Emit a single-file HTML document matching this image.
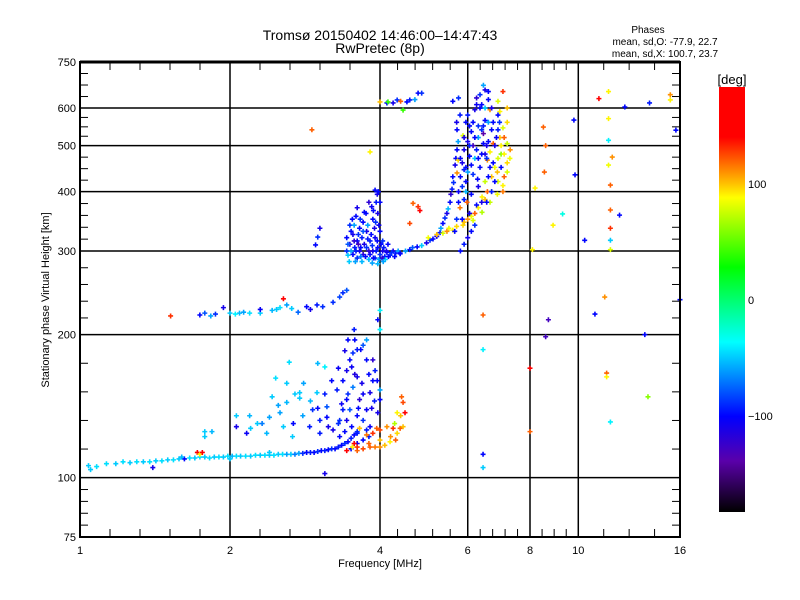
<!DOCTYPE html>
<html><head><meta charset="utf-8"><style>
html,body{margin:0;padding:0;background:#fff;}
svg{display:block;font-family:"Liberation Sans",sans-serif;}
</style></head><body>
<svg id="chart" width="800" height="600" viewBox="0 0 800 600" xmlns="http://www.w3.org/2000/svg">
<defs>
<linearGradient id="cbar" x1="0" y1="0" x2="0" y2="1">
<stop offset="0" stop-color="#ff0000"/><stop offset="0.118" stop-color="#ff0000"/>
<stop offset="0.227" stop-color="#ffc000"/><stop offset="0.26" stop-color="#ffff00"/>
<stop offset="0.424" stop-color="#00ff00"/><stop offset="0.6" stop-color="#00ffff"/>
<stop offset="0.775" stop-color="#0000ff"/><stop offset="0.88" stop-color="#5a00aa"/>
<stop offset="1" stop-color="#000000"/>
</linearGradient>
</defs>
<text x="380" y="40" font-size="14" text-anchor="middle">Tromsø 20150402 14:46:00–14:47:43</text>
<text x="380" y="53" font-size="14" text-anchor="middle">RwPretec (8p)</text>
<text x="648" y="33" font-size="10" text-anchor="middle">Phases</text>
<text x="665" y="45" font-size="10" text-anchor="middle">mean, sd,O: -77.9, 22.7</text>
<text x="665" y="57" font-size="10" text-anchor="middle">mean, sd,X: 100.7, 23.7</text>
<text x="380" y="567" font-size="11" text-anchor="middle">Frequency [MHz]</text>
<text x="49" y="300" font-size="11" text-anchor="middle" transform="rotate(-90 49 300)">Stationary phase Virtual Height [km]</text>
<g id="grid"></g>
<g id="marks"></g>
<g id="axes"></g>
<rect x="719" y="87" width="26" height="425" fill="url(#cbar)"/>
<text x="732" y="84" font-size="13" text-anchor="middle">[deg]</text>
<g id="cbticks"></g>
</svg>
<script>
const xMajors = [1, 2, 4, 6, 8, 10, 16];
const xSubs = [5, 5, 5, 5, 4, 4];
const xGrid = [2, 4, 6, 8, 10];
const yMajors = [75, 100, 200, 300, 400, 500, 600, 750];
const ySubs = [5, 5, 5, 5, 4, 4, 4];
const yGrid = [100, 200, 300, 400, 500, 600];
const cbTicks = [100, 0, -100];
const cbLabels = ["100", "0", "\u2212100"];

const eLayerPoints = [[1.04,106,-50],[1.08,105.5,-45],[1.13,107,-45],[1.18,107,-50],[1.22,108,-45],[1.26,107.5,-50],[1.3,108,-45],[1.34,108,-50],[1.38,108,-45],[1.42,108.5,-50],[1.46,108.5,-45],[1.5,109,-50],[1.54,109,-45],[1.58,109.5,-50],[1.62,109.5,-100],[1.66,110,-45],[1.7,110,-50],[1.74,110.5,-45],[1.78,110.5,-50],[1.82,110,-45],[1.86,110.5,-50],[1.9,110.5,-45],[1.94,110.5,-50],[1.98,111,-45],[2.02,111,-55],[2.06,111,-45],[2.1,111,-50],[2.15,111,-45],[2.2,111,-50],[2.25,111.5,-45],[2.3,111.5,-50],[2.35,111.5,-45],[2.4,111.5,-50],[2.45,111.5,-45],[2.5,112,-50],[2.55,112,-45],[2.6,112,-60],[2.65,112,-50],[2.7,112,-70],[2.75,112.5,-60],[2.8,112.5,-90],[2.85,113,-100],[2.9,113,-95],[2.95,113,-100],[3.0,113.5,-90],[3.05,114,-100],[3.1,114,-95],[3.15,114.5,-100],[3.2,115,-90],[3.25,115,-100],[3.3,116,-95],[3.35,117,-100],[3.4,118,-90],[3.45,119,-100],[3.5,121,-95],[3.55,123,-100],[3.6,125,-90],[1.72,113,140],[1.74,112,90],[1.76,113,150],[1.05,104,-50],[1.4,105,-110],[1.6,110.5,-55],[2.0,109.5,-50],[2.4,113,-50],[3.1,102,-110],[3.5,115,-100],[3.6,118,-110],[3.7,120,-100],[3.8,122,-95]];

const scatterPoints = [[1.78,125,-50],[1.78,122,-50],[1.84,125,-55],[2.06,135,-50],[2.19,135,-55],[2.27,130,-50],[2.32,130,-70],[2.40,134,-60],[2.43,148,-50],[2.47,162,-45],[2.60,158,-50],[2.63,175,-45],[2.76,151,-50],[2.81,158,-60],[2.99,151,-50],[3.0,174,-55],[3.10,171,-40],[3.13,141,-80],[2.76,147,-50],[2.93,139,-90],[2.68,130,-100],[2.89,128,-95],[3.03,124,-95],[2.52,137,-60],[2.56,128,-50],[2.67,122,-50],[2.37,124,-55],[2.16,124,-105],[2.06,128,-110],[2.60,144,-55],[3.28,153,-95],[3.37,160,-100],[3.43,168,-110],[3.48,177,-100],[3.53,183,-90],[3.60,186,-95],[3.56,195,-100],[3.51,171,-105],[3.60,163,-110],[3.53,155,-70],[3.43,146,-100],[3.37,139,-95],[3.43,132,-110],[3.51,128,-100],[3.60,124,-95],[3.70,132,-90],[3.76,139,-105],[3.82,151,-110],[3.87,160,-100],[3.91,168,-95],[3.87,177,-120],[4.0,153,-60],[4.0,146,-100],[3.96,137,-110],[3.76,126,-95],[3.32,122,-100],[3.22,126,-110],[3.13,134,-100],[3.03,132,-95],[3.32,132,-90],[3.48,139,-80],[3.64,146,-120],[3.68,158,-110],[3.76,177,-100],[3.82,128,-105],[3.70,190,-80],[3.76,195,-60],[3.66,186,-100],[3.56,165,-115],[3.45,150,-90],[3.62,140,-100],[3.90,145,-95],[3.35,143,-105],[2.2,127,-50],[2.5,142,-60],[2.7,150,-50],[2.9,145,-55],[3.1,150,-95],[3.2,160,-100],[3.3,170,-105],[3.4,185,-110],[3.45,195,-100],[3.55,205,-95],[3.3,130,-90],[3.4,125,-100],[3.6,135,-100],[3.7,150,-105],[3.8,165,-100],[3.85,140,-110],[3.95,160,-100],[2.8,135,-60],[3.0,140,-100],[3.15,128,-110]];

const eOrangePoints = [[3.43,114,140],[3.60,114,120],[3.70,115,125],[3.82,116,120],[3.91,116,115],[4.0,116,110],[4.09,117,100],[4.19,119,90],[4.33,124,95],[4.39,127,120],[4.45,128,100],[4.49,137,140],[4.45,144,125],[4.42,148,120],[4.33,137,90],[4.25,127,130],[4.0,126,125],[3.87,124,130],[3.76,123,115],[3.64,127,100],[3.94,127,120],[4.13,128,110],[3.55,118,160],[3.52,116,90],[4.28,130,70],[3.6,116,130],[3.8,118,120],[4.0,120,100],[4.2,122,110],[4.4,135,100],[4.3,120,120]];

const esTracePoints = [[1.74,220,-100],[1.78,222,-80],[1.87,221,-90],[1.94,228,-110],[2.0,222,-50],[2.09,222,-55],[2.19,222,-45],[2.30,222,-50],[2.43,225,-55],[2.52,228,-45],[2.60,231,-60],[2.74,223,-75],[2.85,229,-100],[2.99,231,-95],[3.07,229,-90],[3.22,234,-90],[3.32,240,-85],[3.37,245,-90],[3.43,248,-80],[1.52,219,130],[2.56,238,140],[2.3,226,-105],[2.66,227,-50],[2.9,226,-110],[1.83,219,-60],[2.05,221,-40],[2.13,223,-60],[2.48,226,-50],[2.97,309,-100],[3.0,321,-90],[3.03,335,-110],[2.92,540,120],[3.82,485,90],[3.91,403,-100],[4.0,205,-40],[3.96,215,-100],[4.0,225,-40]];

const fBlobPoints = [[3.43,300,-90],[3.43,320,-100],[3.48,310,-110],[3.48,340,-90],[3.53,295,-100],[3.53,325,-110],[3.56,305,-95],[3.60,315,-100],[3.60,290,-90],[3.64,300,-110],[3.64,335,-100],[3.68,320,-95],[3.70,295,-120],[3.70,345,-100],[3.76,305,-90],[3.76,330,-110],[3.82,295,-100],[3.82,315,-95],[3.87,300,-110],[3.87,350,-100],[3.91,290,-90],[3.91,320,-105],[3.96,305,-100],[3.96,360,-110],[4.0,295,-90],[4.0,330,-100],[4.0,380,-100],[4.05,300,-110],[4.09,292,-95],[4.13,298,-100],[4.19,294,-90],[4.25,300,-110],[4.30,297,-95],[4.39,296,-100],[3.58,355,-100],[3.72,362,-100],[3.85,372,-105],[3.95,395,-110],[3.92,345,-90],[3.50,300,-60],[3.66,292,-70],[3.80,288,-55],[3.98,288,-60],[4.10,288,-50],[3.45,294,-50],[3.62,310,-130],[3.78,340,-60],[4.05,315,-90],[4.15,310,-100],[3.45,310,-80],[3.5,330,-100],[3.55,315,-120],[3.58,300,-95],[3.62,325,-90],[3.66,305,-100],[3.7,330,-80],[3.72,310,-110],[3.74,292,-100],[3.78,318,-95],[3.8,300,-120],[3.84,325,-100],[3.86,308,-90],[3.88,290,-100],[3.9,335,-110],[3.93,300,-95],[3.95,315,-100],[3.98,340,-105],[4.02,310,-100],[4.04,290,-120],[4.07,305,-95],[4.12,300,-110],[4.16,292,-100],[4.22,298,-90],[4.28,292,-100],[4.35,300,-60],[3.52,350,-100],[3.55,340,-60],[3.6,370,-110],[3.65,350,-90],[3.75,360,-100],[3.8,380,-120],[3.88,365,-100],[3.93,380,-95],[3.97,400,-100],[3.47,285,-50],[3.57,285,-60],[3.68,285,-55],[3.86,283,-60],[3.96,282,-55],[4.06,285,-60]];

const fTracePoints = [[4.39,297,-100],[4.59,302,-95],[4.75,306,-100],[4.96,312,-110],[5.11,318,-100],[5.28,328,-95],[5.35,343,-100],[5.45,360,-110],[5.53,380,-100],[5.58,405,-95],[5.60,430,-100],[5.66,455,-110],[5.71,490,-100],[5.71,540,-100],[5.79,580,-95],[4.5,300,-60],[4.65,305,-80],[4.85,308,-50],[5.04,316,-90],[5.2,322,-110],[5.3,335,-60],[5.4,352,-90],[5.48,368,-55],[5.55,395,-120],[5.62,418,-90],[5.68,470,-100],[5.74,510,-60],[5.7,560,-110],[5.6,620,-100],[5.75,630,-90],[4.13,615,-100],[4.25,615,-110],[4.33,624,-90],[4.53,618,-100],[4.59,624,-95],[4.77,645,-100],[4.85,645,-90],[4.15,618,40],[4.45,594,40],[4.0,618,100],[4.4,620,120],[4.7,625,-60]];

const xTracePoints = [[5.35,327,80],[5.60,332,90],[5.87,340,95],[6.15,348,80],[6.41,362,70],[6.65,380,75],[6.88,395,85],[7.06,412,90],[7.20,440,80],[7.29,470,85],[7.20,505,75],[7.06,545,80],[6.96,590,90],[7.06,650,130],[4.77,372,130],[4.66,378,120],[4.59,343,125],[4.81,365,140],[5.79,370,115],[5.98,380,120],[5.71,438,110],[5.74,466,95],[5.87,525,80],[6.57,466,110],[6.65,485,90],[6.75,505,120],[6.96,520,100],[6.65,595,110],[7.06,400,115],[6.57,400,120],[6.41,390,90],[6.88,440,100],[6.2,360,120],[6.0,350,110],[5.5,335,85],[7.3,490,110],[7.2,560,95],[6.9,620,80],[7.0,480,60],[6.8,450,85],[6.5,420,75],[6.3,370,90],[6.5,385,100],[6.7,400,85],[6.9,420,80],[7.1,430,120],[7.2,460,95],[7.1,480,90],[6.9,470,80],[6.7,430,100],[6.1,355,85],[5.9,345,100],[5.7,338,95],[5.45,330,110],[5.2,325,100],[5.0,320,85],[7.1,520,120],[7.0,500,90],[7.2,600,100]];

const fBluePoints = [[5.8,300,-100],[5.9,310,-95],[6.0,320,-110],[6.1,330,-100],[6.2,340,-90],[5.85,350,-100],[6.05,360,-110],[6.25,375,-100],[5.9,385,-95],[6.1,395,-100],[6.3,410,-110],[5.95,420,-100],[6.15,435,-90],[6.35,450,-100],[5.85,460,-110],[6.05,475,-100],[6.25,490,-95],[6.45,505,-100],[5.9,520,-110],[6.1,535,-100],[6.3,550,-90],[6.5,565,-100],[6.0,580,-95],[6.2,595,-110],[6.4,610,-100],[6.6,625,-100],[6.35,640,-90],[6.5,655,-110],[6.45,670,-60],[6.7,540,-100],[6.8,500,-110],[6.55,470,-90],[6.6,430,-100],[6.4,380,-110],[6.6,560,-60],[6.9,580,-100],[6.3,520,-60],[6.0,440,-60],[6.2,470,-50],[5.95,400,-55],[6.5,600,-50],[6.75,460,-100],[6.85,520,-105],[5.8,430,-100],[5.75,400,-105],[6.25,630,-120],[6.7,600,-110],[6.55,380,-100],[6.15,500,-130],[6.05,550,-100],[6.4,480,-100],[5.7,350,-90],[5.65,330,-100],[6.95,560,-90],[6.6,650,-100],[7.0,450,-100],[6.45,530,-140],[6.28,425,-100],[5.9,490,-110],[5.75,380,-100],[5.85,410,-90],[5.95,450,-100],[6.05,500,-95],[6.15,560,-100],[6.25,610,-105],[6.35,600,-100],[6.45,550,-95],[6.55,500,-110],[6.65,450,-100],[6.7,400,-95],[6.8,420,-100],[6.3,470,-100],[6.1,455,-100],[5.9,445,-95],[5.8,470,-100],[6.0,510,-110],[6.2,520,-100],[6.4,540,-90],[6.6,510,-100],[6.75,560,-100],[6.9,540,-95],[5.95,560,-100],[6.5,480,-110]];

const sparsePoints = [[11.5,650,90],[11.0,628,150],[15.3,640,110],[15.3,624,90],[15.7,539,-100],[13.9,615,-95],[12.4,603,-100],[9.8,566,-100],[8.51,547,120],[8.6,500,120],[11.5,570,90],[11.7,473,110],[11.5,455,85],[11.6,413,120],[9.85,434,-100],[9.3,359,-30],[8.9,340,90],[11.6,366,120],[11.6,335,130],[12.1,357,-100],[10.3,316,-100],[8.55,440,120],[8.19,407,90],[8.09,302,90],[11.3,240,110],[10.8,221,-100],[8.71,215,-130],[8.6,198,-130],[8.0,170,150],[8.0,125,120],[6.44,220,120],[6.44,186,-40],[6.44,112,-100],[6.44,105,-50],[11.4,166,120],[11.4,163,90],[13.6,200,-100],[13.8,148,60],[11.6,131,-40],[16,237,-100],[11.5,513,-40],[11.6,316,-50],[11.6,302,80]];

const NS = "http://www.w3.org/2000/svg";
const PX0 = 80, PX1 = 680, PY0 = 62, PY1 = 537;
function xScale(f) { return PX0 + (PX1 - PX0) * Math.log(f) / Math.log(16); }
function yScale(h) { return PY1 - (PY1 - PY0) * Math.log10(h / 75); }
function cbScale(v) { return 300 - v * 1.16; }

const stops = [[180,[255,0,0]],[140,[255,0,0]],[100,[255,192,0]],[88,[255,255,0]],[28,[0,255,0]],[-37,[0,255,255]],[-101,[0,0,255]],[-140,[90,0,170]],[-180,[0,0,0]]];
function colorOf(v) {
  if (v >= stops[0][0]) return "rgb(255,0,0)";
  for (let i = 0; i < stops.length - 1; i++) {
    const a = stops[i], b = stops[i + 1];
    if (v <= a[0] && v >= b[0]) {
      const t = (a[0] - v) / (a[0] - b[0]);
      const c = a[1].map((q, k) => Math.round(q + (b[1][k] - q) * t));
      return "rgb(" + c.join(",") + ")";
    }
  }
  return "rgb(0,0,0)";
}
function line(g, x1, y1, x2, y2, w) {
  const l = document.createElementNS(NS, "line");
  l.setAttribute("x1", x1); l.setAttribute("y1", y1);
  l.setAttribute("x2", x2); l.setAttribute("y2", y2);
  l.setAttribute("stroke", "#000"); l.setAttribute("stroke-width", w);
  g.appendChild(l);
  return l;
}
function text(g, x, y, s, anchor, size) {
  const t = document.createElementNS(NS, "text");
  t.setAttribute("x", x); t.setAttribute("y", y);
  t.setAttribute("font-size", size); t.setAttribute("text-anchor", anchor);
  t.textContent = s;
  g.appendChild(t);
  return t;
}

const grid = document.getElementById("grid");
xGrid.forEach(f => {
  const l = line(grid, xScale(f), PY0, xScale(f), PY1, 1.5);
  
  
});
yGrid.forEach(h => {
  const l = line(grid, PX0, yScale(h), PX1, yScale(h), 1.5);
  
  
});

const marks = document.getElementById("marks");
const allSets = [eLayerPoints, scatterPoints, eOrangePoints, esTracePoints, fBlobPoints, fTracePoints, xTracePoints, fBluePoints, sparsePoints];
allSets.forEach(set => set.forEach(p => {
  const x = xScale(p[0]), y = yScale(p[1]);
  const path = document.createElementNS(NS, "path");
  path.setAttribute("d", "M" + (x - 2.5) + " " + y + "h5M" + x + " " + (y - 2.5) + "v5");
  path.setAttribute("stroke", colorOf(p[2]));
  path.setAttribute("stroke-width", "1.6");
  
  
  marks.appendChild(path);
}));

const axes = document.getElementById("axes");
const frame = document.createElementNS(NS, "rect");
frame.setAttribute("x", PX0); frame.setAttribute("y", PY0);
frame.setAttribute("width", PX1 - PX0); frame.setAttribute("height", PY1 - PY0);
frame.setAttribute("fill", "none"); frame.setAttribute("stroke", "#000"); frame.setAttribute("stroke-width", "2");


axes.appendChild(frame);
line(axes, PX0, PY0, PX1, PY0, 3);

for (let i = 0; i < xMajors.length - 1; i++) {
  const a = xScale(xMajors[i]), b = xScale(xMajors[i + 1]);
  for (let k = 1; k < xSubs[i]; k++) {
    const x = a + (b - a) * k / xSubs[i];
    line(axes, x, PY1, x, PY1 - 8, 1);
    line(axes, x, PY0, x, PY0 + 8, 1);
  }
}
xMajors.forEach(f => {
  const t = text(axes, xScale(f), 554, String(f), "middle", 11);
  
  
});
for (let i = 0; i < yMajors.length - 1; i++) {
  const a = yScale(yMajors[i]), b = yScale(yMajors[i + 1]);
  for (let k = 1; k < ySubs[i]; k++) {
    const y = a + (b - a) * k / ySubs[i];
    line(axes, PX0, y, PX0 + 8, y, 1);
    line(axes, PX1, y, PX1 - 8, y, 1);
  }
}
yMajors.forEach(h => {
  const t = text(axes, 76, yScale(h) + 4, String(h), "end", 11);
  
  
});

const cbt = document.getElementById("cbticks");
cbTicks.forEach((v, i) => {
  const t = text(cbt, 748, cbScale(v) + 4, cbLabels[i], "start", 11);
  
  
});
</script>
</body></html>
